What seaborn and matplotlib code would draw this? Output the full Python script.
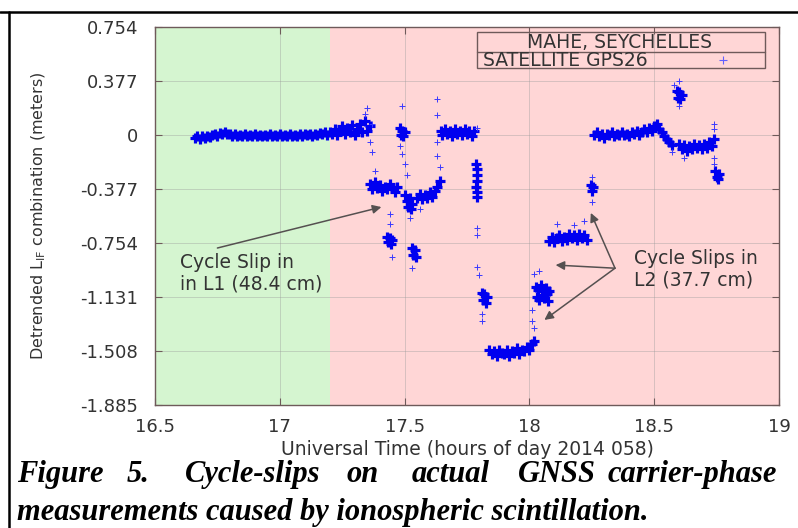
import matplotlib
matplotlib.use("Agg")
import matplotlib.pyplot as plt
from matplotlib.lines import Line2D
from matplotlib.patches import Rectangle
import pandas as pd
import seaborn as sns

# --- data (hours UT, metres) ---
# quiet period before the scintillation
t_before = [16.66, 16.67, 16.68, 16.69, 16.70, 16.71, 16.72, 16.73, 16.74, 16.75,
            16.76, 16.77, 16.78, 16.79, 16.80, 16.81, 16.82, 16.83, 16.84, 16.85,
            16.86, 16.87, 16.88, 16.89, 16.90, 16.91, 16.92, 16.93, 16.94, 16.95,
            16.96, 16.97, 16.98, 16.99, 17.00, 17.01, 17.02, 17.03, 17.04, 17.05,
            17.06, 17.07, 17.08, 17.09, 17.10, 17.11, 17.12, 17.13, 17.14, 17.15,
            17.16, 17.17, 17.18, 17.19, 17.20]
y_before = [-0.02, -0.01, -0.025, -0.01, -0.02, -0.005, -0.015, 0.0, 0.01, -0.005,
            0.015, 0.005, 0.02, 0.005, 0.01, -0.005, 0.005, -0.01, 0.0, -0.01,
            0.005, -0.005, 0.0, -0.01, 0.005, -0.005, 0.0, -0.01, 0.0, -0.005,
            0.005, -0.01, 0.0, -0.005, 0.005, -0.005, 0.0, -0.01, 0.005, -0.005,
            0.0, -0.01, 0.005, -0.005, 0.005, 0.0, 0.01, -0.005, 0.01, 0.0,
            0.015, 0.005, 0.02, 0.0, 0.02]

# onset of scintillation
t_onset = [17.21, 17.22, 17.23, 17.24, 17.25, 17.26, 17.27, 17.28, 17.29, 17.30,
           17.31, 17.32, 17.33, 17.34, 17.35, 17.36]
y_onset = [0.01, 0.04, 0.0, 0.03, 0.06, 0.01, 0.05, 0.02, 0.07, 0.0,
           0.04, 0.08, 0.02, 0.10, 0.03, 0.06]

# L1 slips
t_l1 = [17.36, 17.37, 17.38, 17.39, 17.40, 17.41, 17.42, 17.43, 17.44, 17.45, 17.46, 17.47,
        17.43, 17.435, 17.44, 17.445, 17.45,
        17.48, 17.485, 17.49, 17.495, 17.50,
        17.50, 17.51, 17.515, 17.52, 17.525, 17.53,
        17.53, 17.535, 17.54, 17.545,
        17.55, 17.56, 17.57, 17.58, 17.59, 17.60, 17.61, 17.62, 17.63, 17.64]
y_l1 = [-0.34, -0.38, -0.33, -0.37, -0.35, -0.39, -0.36, -0.38, -0.34, -0.37, -0.40, -0.36,
        -0.71, -0.75, -0.72, -0.76, -0.73,
        0.05, 0.0, 0.03, -0.01, 0.02,
        -0.42, -0.46, -0.50, -0.44, -0.52, -0.48,
        -0.79, -0.84, -0.80, -0.85,
        -0.44, -0.41, -0.45, -0.42, -0.44, -0.40, -0.43, -0.39, -0.36, -0.32]

# back near zero, then drop
t_mid = [17.645, 17.65, 17.66, 17.67, 17.68, 17.69, 17.70, 17.71, 17.72, 17.73,
         17.74, 17.75, 17.76, 17.77, 17.78,
         17.788, 17.79, 17.792, 17.79, 17.788, 17.79, 17.792]
y_mid = [0.03, 0.0, 0.04, 0.01, 0.03, -0.01, 0.04, 0.01, 0.03, 0.0,
         0.04, 0.01, 0.03, -0.01, 0.03,
         -0.20, -0.24, -0.28, -0.32, -0.36, -0.40, -0.43]

# L2 slips
t_l2 = [17.81, 17.815, 17.82, 17.825, 17.83,
        17.84, 17.85, 17.86, 17.87, 17.88, 17.89, 17.90, 17.91, 17.92, 17.93,
        17.94, 17.95, 17.96, 17.97, 17.98, 17.99, 18.00, 18.01, 18.02,
        18.025, 18.03, 18.035, 18.04, 18.045, 18.05, 18.055, 18.06, 18.065, 18.07, 18.075, 18.08,
        18.08, 18.09, 18.10, 18.11, 18.12, 18.13, 18.14, 18.15, 18.16, 18.17,
        18.18, 18.19, 18.20, 18.21, 18.22, 18.23,
        18.245, 18.25, 18.255]
y_l2 = [-1.10, -1.15, -1.11, -1.17, -1.13,
        -1.50, -1.53, -1.51, -1.54, -1.50, -1.52, -1.53, -1.50, -1.54, -1.51,
        -1.52, -1.49, -1.53, -1.50, -1.51, -1.48, -1.50, -1.46, -1.44,
        -1.06, -1.13, -1.08, -1.15, -1.05, -1.12, -1.09, -1.14, -1.07, -1.11, -1.16, -1.09,
        -0.74, -0.71, -0.75, -0.72, -0.70, -0.74, -0.71, -0.73, -0.69, -0.72,
        -0.70, -0.73, -0.69, -0.72, -0.70, -0.73,
        -0.35, -0.39, -0.36]

# end of the pass
t_tail = [18.26, 18.27, 18.28, 18.29, 18.30, 18.31, 18.32, 18.33, 18.34, 18.35,
          18.36, 18.37, 18.38, 18.39, 18.40, 18.41, 18.42, 18.43, 18.44, 18.45,
          18.46, 18.47, 18.48, 18.49, 18.50, 18.51, 18.52, 18.53, 18.54, 18.55,
          18.56, 18.57,
          18.59, 18.595, 18.60, 18.605, 18.61,
          18.60, 18.61, 18.62, 18.63, 18.64, 18.65, 18.66, 18.67, 18.68, 18.69,
          18.70, 18.71, 18.72, 18.73, 18.74,
          18.745, 18.75, 18.755, 18.76]
y_tail = [0.0, 0.02, -0.01, 0.01, -0.02, 0.01, 0.0, 0.02, -0.01, 0.01,
          0.0, 0.02, 0.0, 0.01, -0.01, 0.02, 0.01, 0.03, 0.0, 0.02,
          0.04, 0.02, 0.05, 0.03, 0.06, 0.08, 0.04, 0.02, -0.01, -0.03,
          -0.05, -0.07,
          0.31, 0.26, 0.30, 0.25, 0.28,
          -0.06, -0.10, -0.07, -0.11, -0.08, -0.10, -0.06, -0.09, -0.07, -0.10,
          -0.06, -0.09, -0.05, -0.08, -0.03,
          -0.25, -0.29, -0.31, -0.27]

# isolated samples
t_spread = [17.35, 17.34, 17.37, 17.37, 17.38, 17.36, 17.44, 17.44, 17.45, 17.49,
            17.49, 17.50, 17.51, 17.48, 17.53, 17.52, 17.56, 17.63, 17.63, 17.63,
            17.63, 17.64, 17.79, 17.79, 17.79, 17.79, 17.80, 17.81, 17.81, 18.01,
            18.01, 18.02, 18.02, 18.04, 18.11, 18.18, 18.22, 18.25, 18.25, 18.58,
            18.60, 18.60, 18.57, 18.74, 18.74, 18.74, 18.74, 18.62]
y_spread = [0.19, 0.15, 0.08, -0.12, -0.25, -0.05, -0.55, -0.62, -0.85, 0.20,
            -0.13, -0.20, -0.28, -0.08, -0.93, -0.58, -0.52, 0.25, 0.14, -0.05,
            -0.15, -0.22, 0.05, -0.65, -0.70, -0.92, -0.98, -1.25, -1.30, -1.22,
            -1.30, -0.97, -1.35, -0.95, -0.62, -0.63, -0.60, -0.29, -0.47, 0.35,
            0.20, 0.38, -0.12, 0.04, 0.08, -0.16, -0.20, -0.16]

y_ticks = [0.754, 0.377, 0, -0.377, -0.754, -1.131, -1.508, -1.885]
y_ticklabels = ['0.754', '0.377', '0', '-0.377', '-0.754', '-1.131', '-1.508', '-1.885']
x_ticks = [16.5, 17, 17.5, 18, 18.5, 19]
x_ticklabels = ['16.5', '17', '17.5', '18', '18.5', '19']
quiet_end = 17.2

dense = pd.DataFrame({
    'time': t_before + t_onset + t_l1 + t_mid + t_l2 + t_tail,
    'lif': y_before + y_onset + y_l1 + y_mid + y_l2 + y_tail,
})
sparse = pd.DataFrame({'time': t_spread, 'lif': y_spread})

sns.set_style('ticks')
plt.rcParams['font.family'] = ['DejaVu Sans']

FRAME = '#6e5a5a'
TXT = '#333333'
W, H = 798, 528

fig = plt.figure(figsize=(W / 100, H / 100), dpi=100)
fig.patch.set_facecolor('white')
ax = fig.add_axes([155 / W, 1 - 405 / H, 624 / W, 378 / H])

ax.axvspan(x_ticks[0], quiet_end, color='#d5f5d0', lw=0, zorder=0)
ax.axvspan(quiet_end, x_ticks[-1], color='#ffd6d6', lw=0, zorder=0)
ax.set_axisbelow(True)
ax.grid(True, color='#9a9a9a', lw=0.6, alpha=0.45)

sns.scatterplot(data=dense, x='time', y='lif', ax=ax, marker='+', color='#0000f0',
                s=60, linewidth=2.3, legend=False, zorder=3)
sns.scatterplot(data=sparse, x='time', y='lif', ax=ax, marker='+', color='#3a3aff',
                s=16, linewidth=0.7, legend=False, zorder=3)

ax.set_xlim(x_ticks[0], x_ticks[-1])
ax.set_ylim(y_ticks[-1], y_ticks[0])
ax.set_xticks(x_ticks)
ax.set_xticklabels(x_ticklabels)
ax.set_yticks(y_ticks)
ax.set_yticklabels(y_ticklabels)
ax.tick_params(direction='in', length=5, width=0.8, top=True, right=True,
               colors=FRAME, labelcolor=TXT, labelsize=13)
ax.tick_params(axis='y', pad=12)
ax.tick_params(axis='x', pad=9)
for s in ax.spines.values():
    s.set_visible(True)
    s.set_color(FRAME)
    s.set_linewidth(1.0)

ax.set_xlabel('Universal Time (hours of day 2014 058)', fontsize=13.5, color=TXT)
ax.set_ylabel(r'Detrended L$_{\mathrm{IF}}$ combination (meters)', fontsize=11.5, color=TXT)
ax.xaxis.set_label_coords(0.5, -0.092)
ax.yaxis.set_label_coords(-0.171, 0.5)

# legend box (gnuplot style key)
ax.add_patch(Rectangle((0.516, 0.8915), 0.4616, 0.0953, transform=ax.transAxes,
                       fill=False, edgecolor=FRAME, lw=1.0, zorder=5))
ax.plot([0.516, 0.9776], [0.9339, 0.9339], transform=ax.transAxes,
        color=FRAME, lw=1.0, zorder=5)
ax.text(0.745, 0.959, 'MAHE, SEYCHELLES', transform=ax.transAxes, ha='center',
        va='center', fontsize=13.5, color=TXT, zorder=6)
ax.text(0.526, 0.912, 'SATELLITE GPS26', transform=ax.transAxes, ha='left',
        va='center', fontsize=13.5, color=TXT, zorder=6)
ax.plot([0.910], [0.913], transform=ax.transAxes, marker='+', color='#6060ff',
        ms=6, mew=0.8, zorder=6)

# annotations
arrow = dict(arrowstyle='-|>', color='#555050', lw=1.1, mutation_scale=13,
             shrinkA=0, shrinkB=0)
ax.annotate('', xy=(17.407, -0.503), xytext=(16.75, -0.789), arrowprops=arrow, zorder=4)
ax.text(16.60, -0.965, 'Cycle Slip in\nin L1 (48.4 cm)', ha='left', va='center',
        fontsize=13.5, color=TXT, linespacing=1.15)
for tip in [(18.246, -0.544), (18.105, -0.908), (18.06, -1.291)]:
    ax.annotate('', xy=tip, xytext=(18.343, -0.93), arrowprops=arrow, zorder=4)
ax.text(18.42, -0.935, 'Cycle Slips in\nL2 (37.7 cm)', ha='left', va='center',
        fontsize=13.5, color=TXT, linespacing=1.15)

# page border
fig.add_artist(Line2D([0, 1], [1 - 12 / H, 1 - 12 / H], color='black', lw=1.8))
fig.add_artist(Line2D([9 / W, 9 / W], [0, 1 - 12 / H], color='black', lw=1.8))

# caption
cap = dict(family=['Liberation Serif', 'DejaVu Serif'], weight='bold', style='italic',
           fontsize=22, color='black', va='baseline', ha='left')
words = ['Figure', '5.', 'Cycle-slips', 'on', 'actual', 'GNSS', 'carrier-phase']
word_px = [17, 127, 185, 347, 412, 518, 608]
for w_, px in zip(words, word_px):
    fig.text(px / W, 1 - 482 / H, w_, **cap)
fig.text(17 / W, 1 - 520 / H, 'measurements caused by ionospheric scintillation.', **cap)

fig.savefig('out.png', dpi=100)
